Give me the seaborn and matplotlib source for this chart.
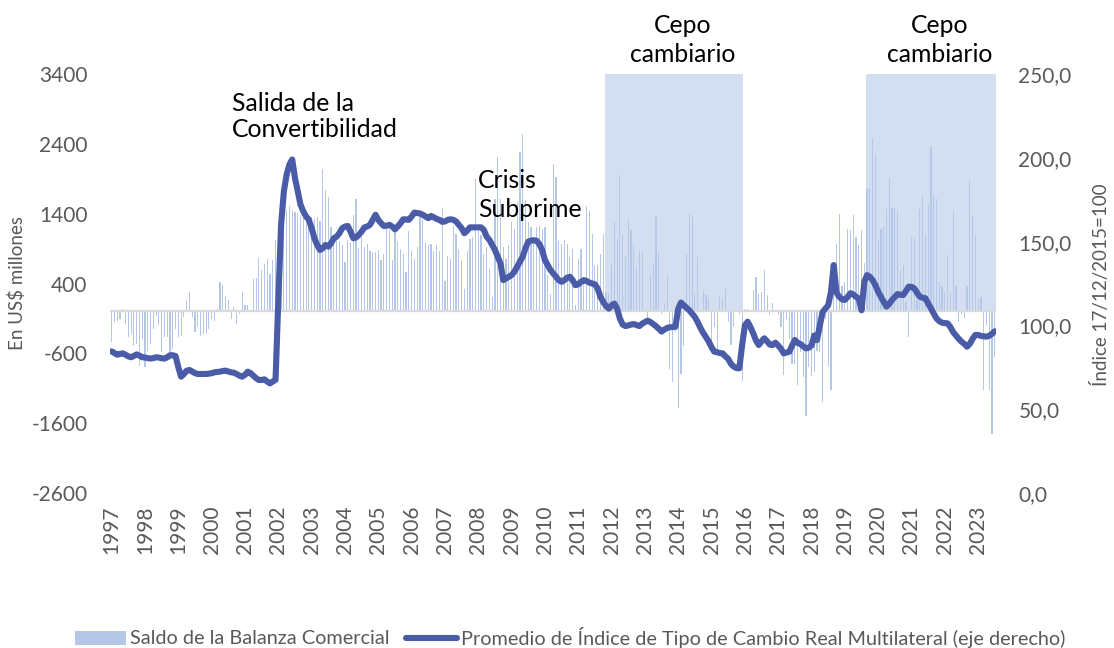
import numpy as np
import pandas as pd
import matplotlib
matplotlib.use("Agg")
import matplotlib.pyplot as plt
import seaborn as sns
from matplotlib.patches import Patch
from matplotlib.lines import Line2D

# ---------------- DATA ----------------
inicio = "1997-01"
n_meses = 319  # Jan 1997 .. Jul 2023

# Saldo de la Balanza Comercial (US$ millones), monthly
saldo_balanza = [
    -440, -150, -130, -105, 30, -175, -370, -320, -490, -460, -775, -390,      # 1997
    -800, -560, -465, -250, -60, -200, -580, -370, -370, -580, -535, -250,     # 1998
    -370, -345, -80, 160, 275, -80, -300, -225, -345, -335, -320, -250,        # 1999
    -105, -130, 40, 420, 380, 205, 160, -105, 60, -175, -30, 285,              # 2000
    85, 85, 10, 470, 480, 765, 590, 685, 755, 540, 730, 1020,                  # 2001
    970, 1300, 1400, 1450, 1510, 1450, 1430, 1410, 1385, 1350, 1350, 1330,     # 2002
    1350, 1330, 1350, 1300, 2045, 1735, 1640, 1210, 1040, 1135, 1015, 945,     # 2003
    705, 1030, 995, 1385, 1605, 905, 1065, 920, 970, 860, 850, 850,            # 2004
    875, 730, 825, 1195, 1160, 730, 1135, 1015, 900, 825, 565, 1145,           # 2005
    860, 755, 920, 1350, 1330, 985, 955, 970, 865, 945, 860, 1480,             # 2006
    430, 800, 755, 1230, 1110, 895, 730, 315, 860, 1040, 1065, 1900,           # 2007
    1185, 1090, 825, 920, 610, 205, 1615, 2210, 1615, 920, 755, 945,           # 2008
    1280, 1185, 1565, 2280, 2545, 1590, 1280, 1210, 1065, 1210, 1230, 1185,    # 2009
    1210, 515, 255, 2115, 1925, 1015, 970, 1030, 970, 780, 900, 86,            # 2010
    755, 900, 470, 1510, 1445, 1110, 660, 660, 825, 1110, 275, 255,            # 2011
    660, 1280, 1040, 1950, 1090, 780, 1310, 1170, 945, 625, 865, 865,          # 2012
    0, -130, 540, 700, 1365, 835, -35, 120, 515, -820, -1010, -300,            # 2013
    -1385, -890, -490, 825, 1400, 1350, 265, 780, 30, 290, 230, 195,           # 2014
    -580, -225, -560, 215, 195, 335, -150, -480, -225, -10, -35, -990,         # 2015
    40, 40, 0, 310, 490, 255, 275, 590, 240, -55, 125, 0,                      # 2016
    -55, -225, -915, -105, -390, -750, -750, -1060, -580, -940, -1500, -800,   # 2017
    -920, -870, -560, -580, -1300, -105, -780, -1130, 300, 970, 1400, 370,     # 2018
    420, 1185, 1160, 1375, 1065, 945, 1160, 700, 1750, 1765, 2480, 2245,       # 2019
    1040, 1185, 1230, 1460, 1910, 1480, 1480, 1445, 590, 670, 140, -370,       # 2020
    1065, 1055, 160, 1470, 1670, 1100, 1540, 2355, 1685, 1615, 420, 370,       # 2021
    285, 810, 265, 1445, 365, -150, -55, -100, 370, 1885, 1360, 1100,          # 2022
    180, 205, -1130, -200, -1130, -1750, -655,                                 # 2023
]

# Promedio de Indice de Tipo de Cambio Real Multilateral (17/12/2015=100)
tcrm = [
    84.5, 83.5, 82.5, 83, 83.3, 82.5, 81.5, 81, 81.8, 82.7, 82, 81,                 # 1997
    80.8, 80.5, 80.2, 80.5, 81, 80.8, 80.4, 80.2, 81, 82.2, 82.2, 81.7,             # 1998
    75, 69.4, 71, 73, 73.4, 72.5, 71.5, 71, 71, 71, 71, 71.2,                       # 1999
    71.5, 72, 72.2, 72.4, 72.8, 73, 72.5, 72, 71.8, 71, 70, 69.4,                   # 2000
    70.5, 72.4, 71.5, 70, 68.5, 67.4, 67.5, 67.8, 66.5, 65.4, 66.5, 67.5,           # 2001
    115, 160, 180, 190, 196, 199, 188, 180, 172, 168, 165, 163,                     # 2002
    158, 152, 148, 145, 146, 148, 147, 149, 152, 153, 155, 158,                     # 2003
    159, 159.3, 156, 152, 152.5, 154, 156, 158.5, 159, 160, 163, 166,               # 2004
    163, 161, 159.3, 159.5, 160, 159, 157.3, 159, 161, 163.3, 163.2, 163,           # 2005
    165, 167.3, 167, 166.8, 166, 165, 164, 165.3, 164.5, 163.5, 163, 161.8,         # 2006
    162, 163, 163.3, 163, 162, 160, 158, 155, 156.5, 158.5, 158.5, 158.5,           # 2007
    158.5, 158.5, 157, 153, 151, 148, 145, 141, 137, 127, 128, 129,                 # 2008
    130, 132, 135, 138, 141, 146, 150, 150.6, 150.8, 150.5, 148.5, 145,             # 2009
    139, 136, 133, 131, 129, 127, 126, 127, 128.5, 129, 127, 124,                   # 2010
    124.5, 126, 127, 126.5, 125.5, 125, 124.5, 122, 117, 114, 111.5, 110,           # 2011
    112, 113, 110, 104, 100.5, 99.6, 100, 100.5, 100.8, 100.2, 99.6, 101,           # 2012
    102, 102.8, 102, 100.8, 99.5, 98, 96.3, 97.5, 98.5, 98.9, 99, 99.2,             # 2013
    110, 113.6, 112, 110.5, 109, 107, 105, 102, 98.5, 95.5, 93, 90.3,               # 2014
    87, 84.3, 84, 83.5, 83.3, 81.5, 80, 77, 75.4, 74.5, 74.4, 88,                   # 2015
    100, 102.2, 99, 95.3, 91, 88.3, 90.5, 92.3, 90.5, 88.5, 88.3, 89.7,             # 2016
    88, 86, 83.3, 83.8, 84.3, 88, 91.3, 89.5, 88.9, 87.5, 86.3, 86.7,               # 2017
    88, 94, 91.3, 100, 108, 110, 112, 120, 136, 119.5, 117, 115.5,                  # 2018
    115.2, 117, 119.2, 118.5, 117.1, 116, 109, 126, 130, 129, 127, 124,             # 2019
    120.1, 117, 114, 111.2, 113, 115.2, 117, 118.7, 118.3, 118.1, 120.5, 123.1,     # 2020
    123, 122.1, 119.5, 117.1, 116.5, 116.2, 113, 110.2, 107, 104.2, 102.5, 101.6,   # 2021
    101.4, 101.2, 99, 96, 94, 92, 90.3, 89, 87.3, 89, 92, 94.3,                     # 2022
    94.3, 93.7, 93.5, 93.3, 93.8, 95, 96.5,                                         # 2023
]

# Cepo cambiario periods (first and last month)
cepo_periodos = [("2011-11", "2015-12"), ("2019-09", "2023-07")]

anios = [str(a) for a in range(1997, 2024)]

serie_barras = "Saldo de la Balanza Comercial"
serie_linea = "Promedio de Índice de Tipo de Cambio Real Multilateral (eje derecho)"

# ---------------- BUILD ----------------
meses = pd.date_range(inicio, periods=n_meses, freq="MS")
df = pd.DataFrame({"fecha": meses, "idx": np.arange(n_meses),
                   "saldo": saldo_balanza, "tcrm": tcrm})
cepo = np.zeros(n_meses, dtype=bool)
for a, b in cepo_periodos:
    cepo |= (df["fecha"] >= pd.Timestamp(a)) & (df["fecha"] <= pd.Timestamp(b))
y_top = 3400
df["cepo"] = np.where(cepo, y_top, 0)

sns.set_theme(style="white")
plt.rcParams["font.family"] = ["Lato", "DejaVu Sans"]
plt.rcParams["axes.unicode_minus"] = False

W, H = 1114, 648
fig = plt.figure(figsize=(W / 100, H / 100), dpi=100)
ax = fig.add_axes([110.3 / W, 1 - 493 / H, (996.2 - 110.3) / W, (493 - 74) / H])
aw = (996.2 - 110.3)

bar_col = "#B4C7E7"
shade_col = "#D3DFF1"
line_col = "#4A5BA8"
txt_gray = "#595959"

sns.barplot(data=df, x="idx", y="cepo", native_scale=True, width=1.0,
            color=shade_col, saturation=1, linewidth=0, ax=ax, zorder=1)
sns.barplot(data=df, x="idx", y="saldo", native_scale=True, width=0.42,
            color=bar_col, saturation=1, linewidth=0, ax=ax, zorder=2)
ax.axhline(0, color="#D9D9D9", lw=1.6, zorder=3)

ax.set_xlim(-0.5, n_meses - 0.5)
ax.set_ylim(-2600, 3400)
ax.set_yticks(np.arange(-2600, 3401, 1000))
ax.set_xticks(np.arange(0, n_meses, 12))
ax.set_xticklabels(anios, rotation=90)
ax.set_xlabel("")
ax.set_ylabel("En US$ millones", color=txt_gray, fontsize=13.5)
ax.yaxis.set_label_coords((26 - 110.3) / aw, (493 - 283) / (493 - 74))
ax.tick_params(axis="both", length=0, colors=txt_gray, labelsize=15)
ax.tick_params(axis="y", pad=16.5)
ax.tick_params(axis="x", pad=9)
for s in ax.spines.values():
    s.set_visible(False)

ax2 = ax.twinx()
sns.lineplot(data=df, x="idx", y="tcrm", ax=ax2, color=line_col, lw=4.4,
             solid_capstyle="round", solid_joinstyle="round")
ax2.set_ylim(0, 250)
ax2.set_yticks(np.arange(0, 251, 50))
ax2.set_yticklabels([f"{v:.1f}".replace(".", ",") for v in np.arange(0, 251, 50)])
ax2.set_ylabel("Índice 17/12/2015=100", color=txt_gray, fontsize=13.5,
               rotation=90)
ax2.yaxis.set_label_coords((1091 - 110.3) / aw, (493 - 285) / (493 - 74))
ax2.tick_params(axis="y", length=0, colors=txt_gray, labelsize=15, pad=16)
ax2.set_xlim(-0.5, n_meses - 0.5)
for s in ax2.spines.values():
    s.set_visible(False)

# annotations
fs_ann = 17.8
fig.text(232 / W, 1 - 116.5 / H, "Salida de la\nConvertibilidad", ha="left",
         va="center", fontsize=fs_ann, color="black", linespacing=1.18)
fig.text(478 / W, 1 - 195 / H, "Crisis\nSubprime", ha="left", va="center",
         fontsize=fs_ann, color="black", linespacing=1.3)
fig.text(683 / W, 1 - 40 / H, "Cepo\ncambiario", ha="center", va="center",
         fontsize=fs_ann, color="black", linespacing=1.3)
fig.text(940 / W, 1 - 40 / H, "Cepo\ncambiario", ha="center", va="center",
         fontsize=fs_ann, color="black", linespacing=1.3)

handles = [Patch(facecolor=bar_col, edgecolor="none"),
           Line2D([0], [0], color=line_col, lw=4.4, solid_capstyle="round")]
leg = fig.legend(handles, [serie_barras, serie_linea], loc="center",
                 bbox_to_anchor=(570 / W, 1 - 637 / H), ncol=2, frameon=False,
                 fontsize=14.3, handlelength=2.6, columnspacing=0.8,
                 handletextpad=0.2)
for t in leg.get_texts():
    t.set_color(txt_gray)

fig.savefig("out.png", dpi=100)
